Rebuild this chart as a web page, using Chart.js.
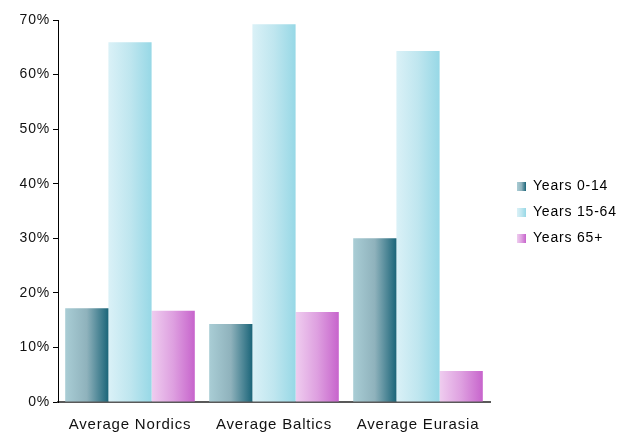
<!DOCTYPE html>
<html>
<head>
<meta charset="utf-8">
<script src="https://cdn.jsdelivr.net/npm/chart.js@4/dist/chart.umd.min.js"></script>
<style>
  html, body { margin: 0; padding: 0; background: #fff; }
  #wrap { width: 630px; height: 435px; }
</style>
</head>
<body>
<div id="wrap"><canvas id="c" width="630" height="435"></canvas></div>
<script>
// Population share by age group
const regions = ['Average Nordics', 'Average Baltics', 'Average Eurasia'];
const seriesNames = ['Years 0-14', 'Years 15-64', 'Years 65+'];
const years0to14 = [17.2, 14.3, 30.0];
const years15to64 = [65.9, 69.2, 64.3];
const years65plus = [16.7, 16.5, 5.7];
const yTicks = [0, 10, 20, 30, 40, 50, 60, 70];

// Left-to-right gradient stops for each series
const gradientStops = [
  ['#a9cdd5', '#8fb2bc', '#1b6579'],
  ['#daf1f7', '#bfe6ef', '#97d8e6'],
  ['#efcdef', '#dea0e0', '#c764cc']
];

const CAT_PCT = 0.9;
const BAR_PCT = 1.0;

function addStops(g, stops) {
  g.addColorStop(0, stops[0]);
  g.addColorStop(0.5, stops[1]);
  g.addColorStop(1, stops[2]);
  return g;
}

// Horizontal gradient fill spanning each individual bar
function barFill(seriesIdx) {
  const stops = gradientStops[seriesIdx];
  return (ctx) => {
    const chart = ctx.chart;
    const xs = chart.scales && chart.scales.x;
    if (!xs || ctx.type !== 'data' || !chart.chartArea) return stops[1];
    const nSeries = chart.data.datasets.length;
    const catW = xs.width / chart.data.labels.length;
    const groupW = catW * CAT_PCT;
    const bw = groupW / nSeries;
    const left = xs.getPixelForValue(ctx.dataIndex) - groupW / 2 + ctx.datasetIndex * bw;
    return addStops(chart.ctx.createLinearGradient(left, 0, left + bw, 0), stops);
  };
}

// Small gradient swatch used as the legend marker
function swatch(seriesIdx) {
  const cv = document.createElement('canvas');
  cv.width = 9; cv.height = 9;
  const c = cv.getContext('2d');
  c.fillStyle = addStops(c.createLinearGradient(0, 0, 9, 0), gradientStops[seriesIdx]);
  c.fillRect(0, 0, 9, 9);
  return cv;
}
const swatches = [swatch(0), swatch(1), swatch(2)];

const spacing = {
  id: 'spacing',
  beforeUpdate(chart) { chart.ctx.letterSpacing = '0.8px'; },
  beforeLayout(chart) { chart.ctx.letterSpacing = '0.8px'; },
  beforeDraw(chart) { chart.ctx.letterSpacing = '0.8px'; }
};

// Fixed legend column width, then nudge the legend right of the plot and upward
const legendPlacement = {
  id: 'legendPlacement',
  afterInit(chart) {
    const lg = chart.legend;
    if (!lg) return;
    const fit = lg.fit.bind(lg);
    lg.fit = function () { fit(); this.width = 140; };
  },
  afterLayout(chart) {
    const lg = chart.legend;
    if (!lg) return;
    lg.left += 15; lg.right += 15;
    lg.top -= 15; lg.bottom -= 15;
  }
};

const ds = (i, data) => ({
  label: seriesNames[i],
  data,
  backgroundColor: barFill(i),
  borderWidth: 0,
  categoryPercentage: CAT_PCT,
  barPercentage: BAR_PCT
});

new Chart(document.getElementById('c'), {
  type: 'bar',
  data: {
    labels: regions,
    datasets: [ds(0, years0to14), ds(1, years15to64), ds(2, years65plus)]
  },
  plugins: [spacing, legendPlacement],
  options: {
    responsive: false,
    animation: false,
    devicePixelRatio: 1,
    layout: { padding: { top: 20, left: 0, right: 0, bottom: 0 } },
    font: { family: '"Liberation Sans", Arial, sans-serif' },
    plugins: {
      tooltip: { enabled: false },
      legend: {
        position: 'right',
        labels: {
          usePointStyle: true,
          pointStyleWidth: 9,
          boxHeight: 9,
          padding: 12,
          color: '#111',
          font: { family: '"Liberation Sans", Arial, sans-serif', size: 14 },
          generateLabels(chart) {
            return chart.data.datasets.map((d, i) => ({
              text: d.label,
              pointStyle: swatches[i],
              fillStyle: gradientStops[i][1],
              strokeStyle: 'transparent',
              lineWidth: 0,
              hidden: false,
              datasetIndex: i
            }));
          }
        }
      }
    },
    scales: {
      x: {
        z: 1,
        grid: { display: false },
        border: { display: true, color: 'rgba(60,60,60,0.85)', width: 2 },
        ticks: {
          color: '#111',
          padding: 6,
          font: { family: '"Liberation Sans", Arial, sans-serif', size: 15 }
        },
        afterFit(s) { s.height = 33; }
      },
      y: {
        min: 0,
        max: 70,
        afterBuildTicks(s) { s.ticks = yTicks.map(v => ({ value: v })); },
        grid: { display: true, drawOnChartArea: false, drawTicks: true, tickLength: 5, color: '#000', lineWidth: 1 },
        border: { display: true, color: '#000', width: 1 },
        ticks: {
          color: '#111',
          padding: 3,
          font: { family: '"Liberation Sans", Arial, sans-serif', size: 14 },
          callback: v => v + '%'
        },
        afterFit(s) { s.width = 58; }
      }
    }
  }
});
</script>
</body>
</html>
